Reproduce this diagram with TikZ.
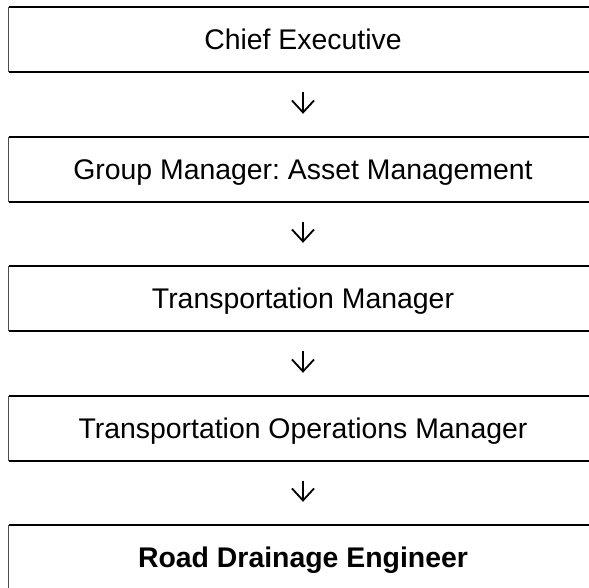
\documentclass[tikz,border=0pt]{standalone}
\usepackage{fontspec}
\setmainfont{Liberation Sans}
\usetikzlibrary{arrows.meta}
\frenchspacing
\begin{document}
\begin{tikzpicture}[x=1pt,y=-1pt,
  boxnode/.style={rectangle, inner sep=0pt, minimum width=588pt, minimum height=64.5pt,
    text height=20.3pt, text depth=0pt, font=\fontsize{28.4}{34}\selectfont},
  hline/.style={line width=2.2pt, black},
  vline/.style={line width=0.8pt, black!70},
  arr/.style={line width=1.8pt, -{Straight Barb[length=12pt,width=22pt]}}]
\useasboundingbox (0,0) rectangle (589,588);
\node[boxnode] (b1) at (303,39.25) {Chief Executive};
\node[boxnode] (b2) at (303,169.25) {Group Manager: Asset Management};
\node[boxnode] (b3) at (303,298.25) {Transportation Manager};
\node[boxnode] (b4) at (303,428.25) {Transportation Operations Manager};
\node[boxnode, font=\fontsize{28.4}{34}\selectfont\bfseries] (b5) at (303,557.25) {Road Drainage Engineer};
\foreach \b in {b1,b2,b3,b4,b5}{
  \draw[hline] (\b.north west) -- (\b.north east);
  \draw[hline] (\b.south west) -- (\b.south east);
  \draw[vline] (\b.north west) -- (\b.south west);
}
\draw[arr] ([yshift=-20.5pt]b1.south) -- ([yshift=23pt]b2.north);
\draw[arr] ([yshift=-20.5pt]b2.south) -- ([yshift=23pt]b3.north);
\draw[arr] ([yshift=-20.5pt]b3.south) -- ([yshift=23pt]b4.north);
\draw[arr] ([yshift=-20.5pt]b4.south) -- ([yshift=23pt]b5.north);
\end{tikzpicture}
\end{document}
